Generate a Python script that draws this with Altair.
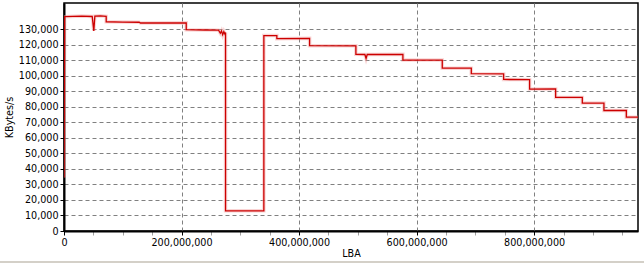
import altair as alt
import pandas as pd

# LBA positions (sectors) and transfer rates (KBytes/s)
lba = [0, 1.0e6, 30e6, 48e6, 50.7e6, 52.5e6, 62e6, 71.8e6,
       71.8e6, 100e6, 128e6, 130e6, 208e6,
       208e6, 240e6, 263e6, 266e6, 268e6, 270e6, 272e6, 274e6, 274.9e6,
       274.9e6, 340.1e6,
       340.1e6, 362.2e6,
       362.2e6, 417.9e6,
       417.9e6, 496.7e6,
       496.7e6, 512e6, 514e6, 516e6, 576.7e6,
       576.7e6, 643.7e6,
       643.7e6, 693.1e6,
       693.1e6, 748.1e6,
       748.1e6, 792.3e6,
       792.3e6, 836.6e6,
       836.6e6, 882.0e6,
       882.0e6, 918.8e6,
       918.8e6, 956.9e6,
       956.9e6, 976.77e6]
kbps = [34500, 138200, 138600, 138300, 129000, 138500, 138700, 138400,
        134900, 134700, 134600, 134100, 134200,
        129800, 129600, 129500, 127500, 129000, 126500, 128500, 126800, 128000,
        13000, 13000,
        126000, 126000,
        124000, 124200,
        119500, 119400,
        113900, 113800, 111200, 113800, 113900,
        110200, 110200,
        105000, 105000,
        101400, 101300,
        97700, 97600,
        91500, 91600,
        86100, 86100,
        82500, 82500,
        77700, 77700,
        73400, 73400]

x_ticks = [i * 50_000_000 for i in range(20)]
y_ticks = [i * 10000 for i in range(14)]

df = pd.DataFrame({"lba": lba, "rate": kbps, "order": list(range(len(lba)))})

FONT = "DejaVu Sans"

x_enc = alt.X(
    "lba:Q",
    title="LBA",
    scale=alt.Scale(domain=[0, 976773168], nice=False, zero=True),
    axis=alt.Axis(
        values=x_ticks,
        format=",d",
        labelExpr="datum.value % 200000000 === 0 ? datum.label : ''",
        labelFont=FONT, labelFontSize=9.6, labelColor="black",
        titleFont=FONT, titleFontSize=9.6, titleFontWeight="normal", titleColor="black",
        titlePadding=2,
        tickSize=4, labelPadding=2,
        tickColor={"condition": {"test": "datum.value % 200000000 === 0", "value": "black"}, "value": "#a0a0a0"},
        domainColor="black", domainWidth=2,
        grid=True, gridColor="#808080", gridDash=[4, 3],
        gridOpacity={"condition": {"test": "datum.value % 200000000 === 0 && datum.value > 0", "value": 1}, "value": 0},
        labelFlush=False,
    ),
)
y_enc = alt.Y(
    "rate:Q",
    title="KBytes/s",
    scale=alt.Scale(domain=[0, 147000], nice=False),
    axis=alt.Axis(
        values=y_ticks,
        format=",d",
        labelFont=FONT, labelFontSize=9.6, labelColor="black",
        titleFont=FONT, titleFontSize=9.6, titleFontWeight="normal", titleColor="black",
        titlePadding=4,
        tickSize=4, tickColor="black", labelPadding=2,
        domainColor="black", domainWidth=2,
        grid=True, gridColor="#808080", gridDash=[4, 3],
        gridOpacity={"condition": {"test": "datum.value > 0", "value": 1}, "value": 0},
    ),
)

base = alt.Chart(df)

halo = base.mark_line(color="#f2a0a0", strokeWidth=3.5, opacity=0.45, clip=True).encode(
    x=x_enc, y=y_enc, order="order:Q"
)
line = base.mark_line(color="#cc0000", strokeWidth=1.3, clip=True).encode(
    x=x_enc, y=y_enc, order="order:Q"
)

band = alt.Chart(pd.DataFrame({"a": [0]})).mark_rect(color="#d4d0c8").encode(
    x=alt.value(-64), x2=alt.value(580), y=alt.value(258), y2=alt.value(260)
)

chart = alt.layer(halo, line, band).properties(
    width=574,
    height=228,
    autosize="none",
    padding={"left": 64, "top": 3, "right": 6, "bottom": 32},
    background="white",
).configure_view(stroke="black", strokeWidth=1.5)

chart.save("out.html", embed_options={"renderer": "svg", "actions": False})
